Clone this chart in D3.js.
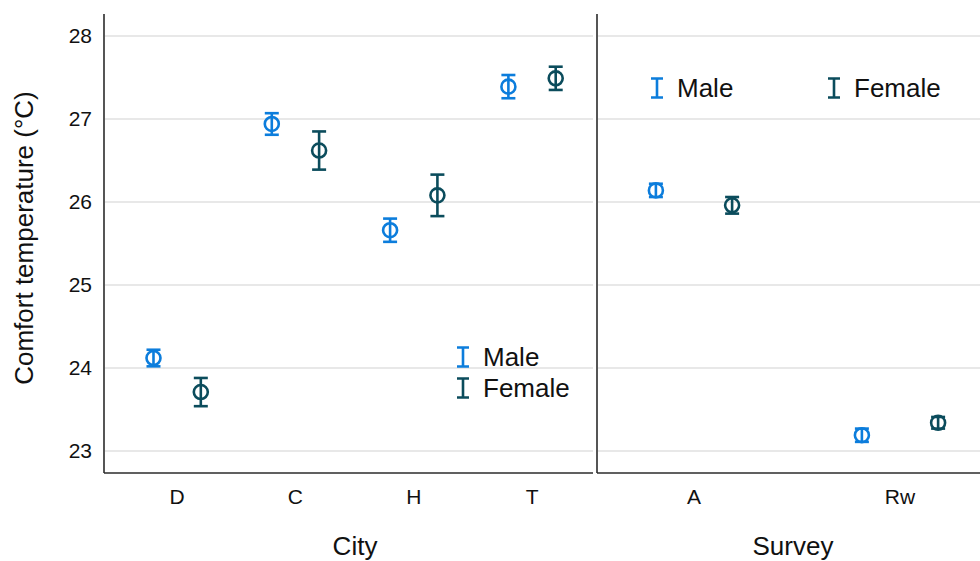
<!DOCTYPE html>
<html>
<head>
<meta charset="utf-8">
<script src="https://cdn.jsdelivr.net/npm/d3@7"></script>
<style>
  html, body { margin: 0; padding: 0; background: #fff; }
  svg { display: block; font-family: "Liberation Sans", Arial, sans-serif; }
</style>
</head>
<body>
<svg id="chart" width="980" height="561"></svg>
<script>
// Mean comfort temperature with error bars, by city and by survey type
const cities = ["D", "C", "H", "T"];
const surveys = ["A", "Rw"];
const seriesNames = ["Male", "Female"];
const seriesColors = ["#0c7ddc", "#0b4c5c"];

const cityMale = [24.12, 26.94, 25.66, 27.39];
const cityMaleErr = [0.10, 0.13, 0.14, 0.14];
const cityFemale = [23.71, 26.62, 26.08, 27.49];
const cityFemaleErr = [0.17, 0.23, 0.25, 0.14];

const surveyMale = [26.14, 23.19];
const surveyMaleErr = [0.08, 0.08];
const surveyFemale = [25.96, 23.34];
const surveyFemaleErr = [0.10, 0.07];

const yTicks = [23, 24, 25, 26, 27, 28];

const svg = d3.select("#chart");
const plotTop = 14, plotBottom = 473;

const y = d3.scaleLinear().domain([22.735, 28.265]).range([plotBottom, plotTop]);

const panels = [
  { cats: cities, male: cityMale, maleErr: cityMaleErr, female: cityFemale, femaleErr: cityFemaleErr,
    x0: 104, x1: 593, bandRange: [118, 591.2], dodge: 0.2, title: "City", titleX: 355,
    legend: { layout: "vertical", x: 463, y: 357 } },
  { cats: surveys, male: surveyMale, maleErr: surveyMaleErr, female: surveyFemale, femaleErr: surveyFemaleErr,
    x0: 597, x1: 980, bandRange: [591, 1003], dodge: 0.185, title: "Survey", titleX: 793,
    legend: { layout: "horizontal", x: 657, y: 88 } }
];

panels.forEach(p => {
  const g = svg.append("g");
  const x = d3.scaleBand().domain(p.cats).range(p.bandRange).padding(0);
  const bw = x.bandwidth();

  // grid
  g.selectAll("line.grid").data(yTicks).join("line")
    .attr("x1", p.x0 + 1).attr("x2", p.x1)
    .attr("y1", d => y(d)).attr("y2", d => y(d))
    .attr("stroke", "#d2d2d2").attr("stroke-width", 1.2);

  // frame (left and bottom)
  g.append("line").attr("x1", p.x0).attr("x2", p.x0).attr("y1", plotTop).attr("y2", plotBottom)
    .attr("stroke", "#2b2b2b").attr("stroke-width", 1.6);
  g.append("line").attr("x1", p.x0).attr("x2", p.x1).attr("y1", plotBottom).attr("y2", plotBottom)
    .attr("stroke", "#2b2b2b").attr("stroke-width", 1.6);

  // category labels
  g.selectAll("text.cat").data(p.cats).join("text")
    .attr("x", d => x(d) + bw / 2).attr("y", 504)
    .attr("text-anchor", "middle").attr("font-size", 21).attr("fill", "#111")
    .text(d => d);

  // axis title
  g.append("text").attr("x", p.titleX).attr("y", 555)
    .attr("text-anchor", "middle").attr("font-size", 26).attr("fill", "#111")
    .text(p.title);

  // points with error bars
  const rows = [];
  p.cats.forEach((c, i) => {
    rows.push({ c, s: 0, v: p.male[i], e: p.maleErr[i] });
    rows.push({ c, s: 1, v: p.female[i], e: p.femaleErr[i] });
  });
  const cx = d => x(d.c) + bw / 2 + (d.s === 0 ? -1 : 1) * p.dodge * bw;
  const cap = 7;
  const mg = g.selectAll("g.mark").data(rows).join("g")
    .attr("stroke", d => seriesColors[d.s]).attr("stroke-width", 2.6).attr("fill", "none");
  mg.append("line").attr("x1", cx).attr("x2", cx)
    .attr("y1", d => y(d.v + d.e)).attr("y2", d => y(d.v - d.e));
  mg.append("line").attr("x1", d => cx(d) - cap).attr("x2", d => cx(d) + cap)
    .attr("y1", d => y(d.v + d.e)).attr("y2", d => y(d.v + d.e));
  mg.append("line").attr("x1", d => cx(d) - cap).attr("x2", d => cx(d) + cap)
    .attr("y1", d => y(d.v - d.e)).attr("y2", d => y(d.v - d.e));
  mg.append("circle").attr("cx", cx).attr("cy", d => y(d.v)).attr("r", 7);

  // legend
  const L = p.legend;
  seriesNames.forEach((name, i) => {
    const lx = L.layout === "vertical" ? L.x : L.x + i * 177;
    const ly = L.layout === "vertical" ? L.y + i * 31 : L.y;
    const lg = g.append("g").attr("transform", `translate(${lx},${ly})`);
    lg.append("path").attr("d", "M-6,-9.5H6M0,-9.5V9.5M-6,9.5H6")
      .attr("stroke", seriesColors[i]).attr("stroke-width", 2.6).attr("fill", "none");
    lg.append("text").attr("x", 20).attr("y", 9).attr("font-size", 26).attr("fill", "#111").text(name);
  });
});

// y axis tick labels
svg.selectAll("text.ytick").data(yTicks).join("text")
  .attr("x", 92).attr("y", d => y(d) + 7)
  .attr("text-anchor", "end").attr("font-size", 21).attr("fill", "#111")
  .text(d => d);

// y axis title
svg.append("text")
  .attr("transform", `translate(33,238) rotate(-90)`)
  .attr("text-anchor", "middle").attr("font-size", 26).attr("fill", "#111")
  .text("Comfort temperature (°C)");
</script>
</body>
</html>
